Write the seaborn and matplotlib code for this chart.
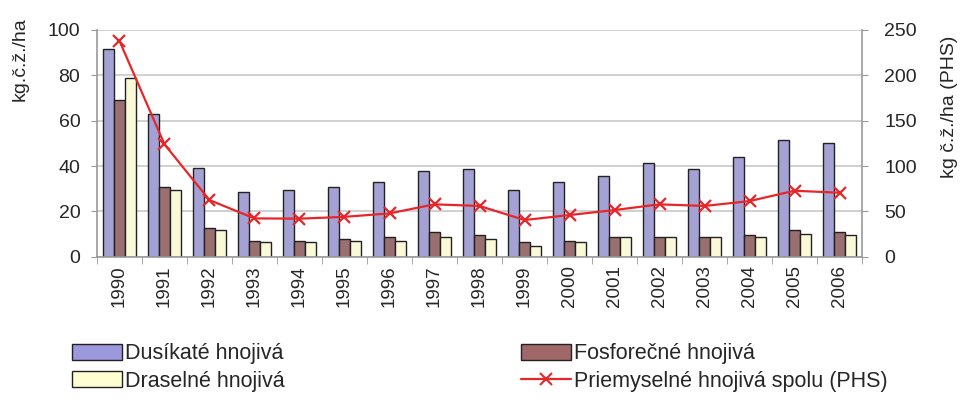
import numpy as np
import pandas as pd
import matplotlib
matplotlib.use("Agg")
import matplotlib.pyplot as plt
import seaborn as sns
from matplotlib.ticker import FixedLocator
from matplotlib.patches import Patch
from matplotlib.lines import Line2D

# ------------------------------------------------------------
# Data (kg č.ž./ha)
# ------------------------------------------------------------
years = [str(y) for y in range(1990, 2007)]
dusikate = [91.5, 63, 39.3, 28.5, 29.3, 30.7, 33, 37.8, 38.5, 29.3, 33, 35.4, 41.5, 38.5, 44, 51.6, 50]
fosforecne = [69, 30.7, 12.5, 7, 7, 7.8, 8.5, 11, 9.4, 6.3, 7, 8.5, 8.5, 8.5, 9.4, 11.8, 11]
draselne = [79, 29.3, 11.8, 6.3, 6.3, 7, 7, 8.5, 7.8, 4.6, 6.3, 8.5, 8.5, 8.5, 8.5, 10.2, 9.4]
phs = [238, 124, 62.5, 42.3, 42, 44, 47.8, 57.8, 56, 40.5, 46, 51.5, 57.8, 56, 61.4, 72.8, 70.6]

series_names = ["Dusíkaté hnojivá", "Fosforečné hnojivá", "Draselné hnojivá"]
line_name = "Priemyselné hnojivá spolu (PHS)"
colors = ["#9c98dc", "#a06868", "#ffffd2"]
red = "#e8262a"

df = pd.DataFrame({
    "rok": years * 3,
    "hodnota": dusikate + fosforecne + draselne,
    "typ": [series_names[0]] * len(years) + [series_names[1]] * len(years) + [series_names[2]] * len(years),
})

# ------------------------------------------------------------
# Plot
# ------------------------------------------------------------
sns.set_style("white")
plt.rcParams["font.family"] = ["Liberation Sans", "DejaVu Sans"]

fig = plt.figure(figsize=(9.6, 4.05), dpi=100)
ax = fig.add_axes([0.101, 0.366, 0.797, 0.560])

sns.barplot(data=df, x="rok", y="hodnota", hue="typ", palette=colors,
            width=0.75, edgecolor="#222222", linewidth=1.0, ax=ax, legend=False)

ax.set_ylim(0, 100)
ax.set_yticks([0, 20, 40, 60, 80, 100])
ax.yaxis.grid(True, color="#c8c8c8", linewidth=1.2)
ax.set_axisbelow(True)
ax.set_xlim(-0.5, len(years) - 0.5)
ax.set_xlabel("")
ax.set_ylabel("kg.č.ž./ha", fontsize=14)
ax.yaxis.set_label_coords(-0.089, 0.87)
ax.tick_params(axis="y", labelsize=14, length=4, color="#999999", direction="out", left=True, pad=8)
ax.tick_params(axis="x", labelsize=13.5, rotation=90, length=0, pad=6)
# Excel-style tick marks between categories
ax.xaxis.set_minor_locator(FixedLocator(np.arange(-0.5, len(years), 1.0)))
ax.tick_params(axis="x", which="minor", length=5, color="#999999", bottom=True)
for side in ["left", "right", "bottom"]:
    ax.spines[side].set_color("#999999")
    ax.spines[side].set_linewidth(1.2)
ax.spines["top"].set_visible(False)

ax2 = ax.twinx()
sns.lineplot(x=np.arange(len(years)), y=phs, ax=ax2, color=red, linewidth=1.6,
             marker="x", markersize=9, markeredgewidth=1.6, markeredgecolor=red)
ax2.set_ylim(0, 250)
ax2.set_yticks([0, 50, 100, 150, 200, 250])
ax2.set_ylabel("kg č.ž./ha (PHS)", fontsize=14)
ax2.yaxis.set_label_coords(1.103, 0.66)
ax2.tick_params(axis="y", labelsize=14, length=4, color="#999999", direction="out", right=True, pad=12)
for side in ["left", "right", "bottom", "top"]:
    ax2.spines[side].set_visible(False)
ax2.grid(False)

# Legend below the chart
h_d = Patch(facecolor=colors[0], edgecolor="#222222", label=series_names[0])
h_f = Patch(facecolor=colors[1], edgecolor="#222222", label=series_names[1])
h_k = Patch(facecolor=colors[2], edgecolor="#222222", label=series_names[2])
h_l = Line2D([], [], color=red, marker="x", markersize=8, markeredgewidth=1.5,
             linewidth=1.6, label=line_name)
fig.legend(handles=[h_d, h_k, h_f, h_l], ncol=2, loc="lower left",
           bbox_to_anchor=(0.055, -0.015), frameon=False,
           handlelength=2.3, handleheight=0.75, handletextpad=0.15,
           columnspacing=11.0, labelspacing=0.3,
           prop={"family": ["Liberation Sans", "DejaVu Sans"], "size": 15.5})

fig.savefig("out.png", dpi=100)
